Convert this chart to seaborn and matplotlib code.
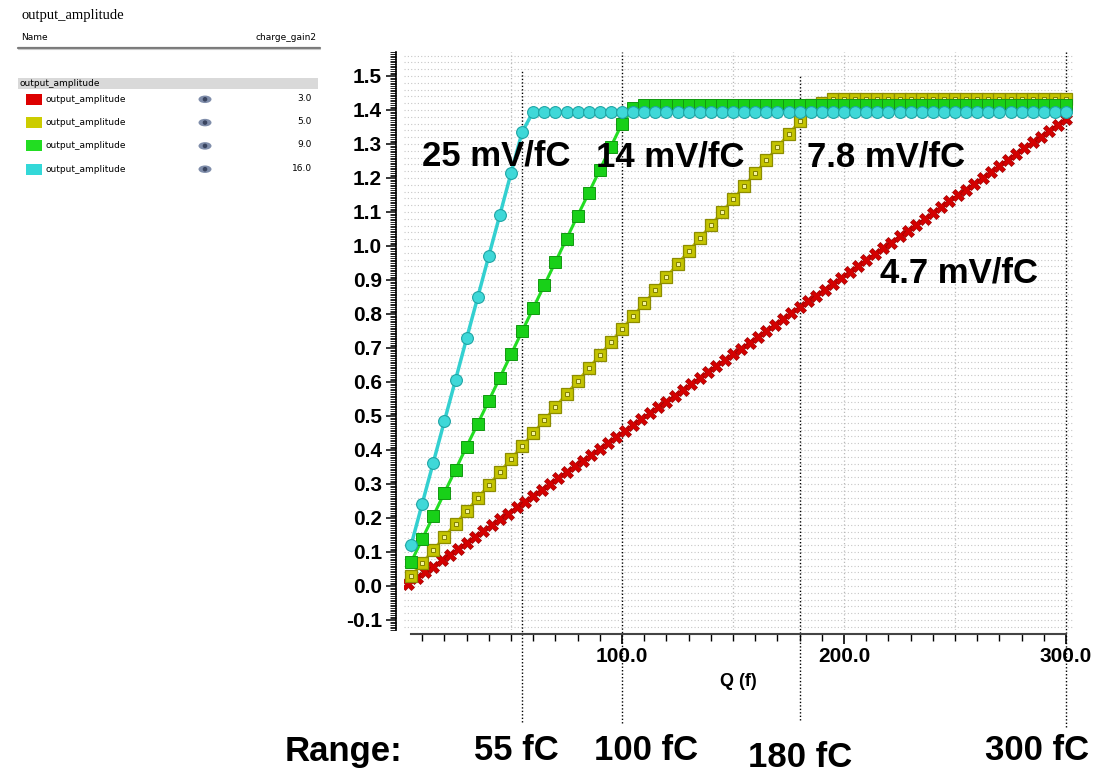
import matplotlib
matplotlib.use("Agg")
import matplotlib.pyplot as plt
from matplotlib.patches import Rectangle, Ellipse, Circle
import matplotlib.ticker as mticker
import seaborn as sns

# charge sweep (fC)
q_fc = [5, 10, 15, 20, 25, 30, 35, 40, 45, 50, 55, 60, 65, 70, 75, 80, 85, 90, 95, 100,
        105, 110, 115, 120, 125, 130, 135, 140, 145, 150, 155, 160, 165, 170, 175, 180, 185, 190, 195, 200,
        205, 210, 215, 220, 225, 230, 235, 240, 245, 250, 255, 260, 265, 270, 275, 280, 285, 290, 295, 300]
q_red = [3.75, 7.5, 11.25, 15, 18.75, 22.5, 26.25, 30, 33.75, 37.5, 41.25, 45, 48.75, 52.5, 56.25, 60,
         63.75, 67.5, 71.25, 75, 78.75, 82.5, 86.25, 90, 93.75, 97.5, 101.25, 105, 108.75, 112.5, 116.25, 120,
         123.75, 127.5, 131.25, 135, 138.75, 142.5, 146.25, 150, 153.75, 157.5, 161.25, 165, 168.75, 172.5,
         176.25, 180, 183.75, 187.5, 191.25, 195, 198.75, 202.5, 206.25, 210, 213.75, 217.5, 221.25, 225,
         228.75, 232.5, 236.25, 240, 243.75, 247.5, 251.25, 255, 258.75, 262.5, 266.25, 270, 273.75, 277.5,
         281.25, 285, 288.75, 292.5, 296.25, 300]

# output amplitude (V) per charge_gain2 setting
amp_gain3 = [0.005, 0.023, 0.040, 0.057, 0.075, 0.092, 0.109, 0.127, 0.144, 0.161,
             0.179, 0.196, 0.213, 0.231, 0.248, 0.265, 0.283, 0.300, 0.317, 0.335,
             0.352, 0.369, 0.386, 0.404, 0.421, 0.438, 0.456, 0.473, 0.490, 0.508,
             0.525, 0.542, 0.560, 0.577, 0.594, 0.612, 0.629, 0.646, 0.664, 0.681,
             0.698, 0.716, 0.733, 0.750, 0.768, 0.785, 0.802, 0.820, 0.837, 0.854,
             0.872, 0.889, 0.906, 0.924, 0.941, 0.958, 0.976, 0.993, 1.010, 1.028,
             1.045, 1.062, 1.079, 1.097, 1.114, 1.131, 1.149, 1.166, 1.183, 1.201,
             1.218, 1.235, 1.253, 1.270, 1.287, 1.305, 1.322, 1.339, 1.357, 1.374]
amp_gain5 = [0.030, 0.068, 0.106, 0.145, 0.183, 0.221, 0.259, 0.297, 0.336, 0.374,
             0.412, 0.450, 0.488, 0.527, 0.565, 0.603, 0.641, 0.679, 0.718, 0.756,
             0.794, 0.832, 0.870, 0.909, 0.947, 0.985, 1.023, 1.061, 1.100, 1.138,
             1.176, 1.214, 1.252, 1.291, 1.329, 1.367, 1.415, 1.422, 1.432, 1.432,
             1.432, 1.432, 1.432, 1.432, 1.432, 1.432, 1.432, 1.432, 1.432, 1.432,
             1.432, 1.432, 1.432, 1.432, 1.432, 1.432, 1.432, 1.432, 1.432, 1.432]
amp_gain9 = [0.070, 0.138, 0.206, 0.274, 0.342, 0.410, 0.477, 0.545, 0.613, 0.681,
             0.749, 0.817, 0.885, 0.953, 1.021, 1.089, 1.156, 1.224, 1.292, 1.360,
             1.405, 1.415, 1.415, 1.415, 1.415, 1.415, 1.415, 1.415, 1.415, 1.415,
             1.415, 1.415, 1.415, 1.415, 1.415, 1.415, 1.415, 1.415, 1.415, 1.415,
             1.415, 1.415, 1.415, 1.415, 1.415, 1.415, 1.415, 1.415, 1.415, 1.415,
             1.415, 1.415, 1.415, 1.415, 1.415, 1.415, 1.415, 1.415, 1.415, 1.415]
amp_gain16 = [0.120, 0.242, 0.363, 0.485, 0.606, 0.728, 0.849, 0.971, 1.092, 1.214,
              1.335, 1.395, 1.395, 1.395, 1.395, 1.395, 1.395, 1.395, 1.395, 1.395,
              1.395, 1.395, 1.395, 1.395, 1.395, 1.395, 1.395, 1.395, 1.395, 1.395,
              1.395, 1.395, 1.395, 1.395, 1.395, 1.395, 1.395, 1.395, 1.395, 1.395,
              1.395, 1.395, 1.395, 1.395, 1.395, 1.395, 1.395, 1.395, 1.395, 1.395,
              1.395, 1.395, 1.395, 1.395, 1.395, 1.395, 1.395, 1.395, 1.395, 1.395]

gain_values = ["3.0", "5.0", "9.0", "16.0"]
gain_colors = ["#dd0000", "#cccc00", "#22dd22", "#33d8d8"]

slope_labels = ["25 mV/fC", "14 mV/fC", "7.8 mV/fC", "4.7 mV/fC"]
slope_pos = [(9.9, 1.238), (88.3, 1.235), (183.5, 1.235), (216.2, 0.894)]

range_q = [55, 100, 180, 300]
range_labels = ["55 fC", "100 fC", "180 fC", "300 fC"]

ytick_vals = [-0.1, 0.0, 0.1, 0.2, 0.3, 0.4, 0.5, 0.6, 0.7, 0.8, 0.9, 1.0, 1.1, 1.2, 1.3, 1.4, 1.5]
xtick_vals = [100, 200, 300]

sns.set_theme(style="white")
plt.rcParams["font.family"] = ["Liberation Sans", "DejaVu Sans"]
plt.rcParams["text.color"] = "black"
plt.rcParams["axes.labelcolor"] = "black"
plt.rcParams["xtick.color"] = "black"
plt.rcParams["ytick.color"] = "black"

fig = plt.figure(figsize=(11.16, 7.72), dpi=100)

# overlay in pixel coordinates for the side panel and bottom labels
ov = fig.add_axes([0, 0, 1, 1], zorder=-1)
ov.set_xlim(0, 1116)
ov.set_ylim(772, 0)
ov.axis("off")

ax = fig.add_axes([0.3624, 0.1837, 0.5988, 0.7487])
ax.set_facecolor("none")

# grid (light dotted)
grid_y = [round(-0.12 + 0.02 * i, 2) for i in range(85)]
ax.hlines(grid_y, 2, 303, colors="#c6c6c6", linestyles=(0, (1, 2)), linewidth=0.8, zorder=0.5)
ax.vlines([50, 150, 200, 250], -0.13, 1.57, colors="#b8b8b8", linestyles=(0, (1, 2)),
          linewidth=0.9, zorder=0.5)

# series
sns.lineplot(x=q_red, y=amp_gain3, ax=ax, color=gain_colors[0], linewidth=2,
             marker="X", markersize=8, markerfacecolor="#d40000", markeredgecolor="#a00000",
             markeredgewidth=0.5, zorder=3)
sns.lineplot(x=q_fc, y=amp_gain5, ax=ax, color="#c4c400", linewidth=2,
             marker="s", markersize=9, markerfacecolor="#c4c400", markeredgecolor="#8c8c00",
             markeredgewidth=0.9, zorder=4)
ax.plot(q_fc, amp_gain5, ls="none", marker="s", markersize=3.2, markerfacecolor="#f4f49c",
        markeredgecolor="#808000", markeredgewidth=0.7, zorder=4.1)
sns.lineplot(x=q_fc, y=amp_gain9, ax=ax, color=gain_colors[2], linewidth=2.2,
             marker="s", markersize=9, markerfacecolor="#18d018", markeredgecolor="#119911",
             markeredgewidth=0.7, zorder=5)
sns.lineplot(x=q_fc, y=amp_gain16, ax=ax, color="#33d0d0", linewidth=2.5,
             marker="o", markersize=8.5, markerfacecolor="#3fd8d8", markeredgecolor="#1ea5a5",
             markeredgewidth=0.8, zorder=6)

ax.set_xlim(2, 303)
ax.set_ylim(-0.13, 1.57)

# axes styling
for s in ["top", "right"]:
    ax.spines[s].set_visible(False)
ax.spines["left"].set_position(("outward", 6))
ax.spines["left"].set_color("black")
ax.spines["left"].set_linewidth(1.2)
ax.spines["bottom"].set_position(("outward", 3))
ax.spines["bottom"].set_bounds(5, 300)
ax.spines["bottom"].set_color("#444444")
ax.spines["bottom"].set_linewidth(1.5)

ax.set_yticks(ytick_vals, labels=[f"{v:.1f}" for v in ytick_vals], fontsize=15, fontweight="bold")
ax.set_xticks(xtick_vals, labels=[f"{v:.1f}" for v in xtick_vals], fontsize=15, fontweight="bold")
ax.yaxis.set_minor_locator(mticker.MultipleLocator(0.005))
ax.xaxis.set_minor_locator(mticker.MultipleLocator(10))
ax.tick_params(axis="y", which="major", direction="out", length=7, width=1.1, pad=3, left=True)
ax.tick_params(axis="y", which="minor", direction="out", length=4, width=0.6, left=True)
ax.tick_params(axis="x", which="major", direction="out", length=7, width=1.2, pad=2, bottom=True)
ax.tick_params(axis="x", which="minor", direction="out", length=5, width=1.0, bottom=True)
ax.set_xlabel("Q (f)", fontsize=13, fontweight="bold", labelpad=5)
ax.set_ylabel("")

# slope annotations
for lab, (xq, yv) in zip(slope_labels, slope_pos):
    ax.text(xq, yv, lab, fontsize=25, fontweight="bold", ha="left", va="baseline",
            color="black", zorder=10)

# range markers: dotted verticals running below the axis
range_top = [0.969, 1.0, 0.960, 1.003]
range_bot = [-0.159, -0.160, -0.155, -0.167]
for q, t, b in zip(range_q, range_top, range_bot):
    ax.plot([q, q], [b, t], transform=ax.get_xaxis_transform(), clip_on=False,
            color="black", linewidth=1, linestyle=(0, (1, 1.5)), zorder=2)

# bottom range labels
ov.text(285, 761, "Range:", fontsize=25, fontweight="bold", va="baseline", ha="left")
range_px = [(474, 760), (594, 760), (748, 767), (985, 760)]
for lab, (px, py) in zip(range_labels, range_px):
    ov.text(px, py, lab, fontsize=25, fontweight="bold", va="baseline", ha="left")

# side panel (waveform browser legend)
ov.text(22, 15, "output_amplitude", family="Liberation Serif", fontsize=10.5, va="center")
ov.text(21, 37, "Name", family="DejaVu Sans", fontsize=6.5, va="center")
ov.text(317, 37, "charge_gain2", family="DejaVu Sans", fontsize=6.5, va="center", ha="right")
ov.plot([18, 320], [47.5, 47.5], color="#7a7a7a", linewidth=1.6)
ov.plot([18, 320], [49.2, 49.2], color="#c8c8c8", linewidth=0.8)
ov.add_patch(Rectangle((18, 77.5), 300, 11.5, color="#d9d9d9", lw=0))
ov.text(20, 83.5, "output_amplitude", family="DejaVu Sans", fontsize=6.5, va="center")
for i, (val, col) in enumerate(zip(gain_values, gain_colors)):
    yc = 99.3 + 23.3 * i
    ov.add_patch(Rectangle((26, yc - 5.5), 16, 11, color=col, lw=0))
    ov.text(45, yc, "output_amplitude", family="DejaVu Sans", fontsize=6.5, va="center")
    ov.add_patch(Ellipse((205, yc), 13, 7.5, color="#7f8daa", lw=0))
    ov.add_patch(Circle((205, yc), 2.3, color="#3a4560", lw=0))
    ov.text(312, yc - 1, val, family="DejaVu Sans", fontsize=6.5, va="center", ha="right")

fig.savefig("out.png", dpi=100)
